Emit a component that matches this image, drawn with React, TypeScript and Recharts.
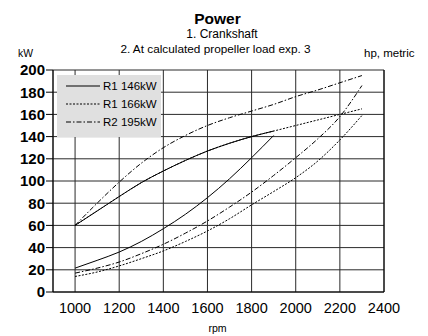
import React from 'react';
import { LineChart, Line, XAxis, YAxis, CartesianGrid, Legend } from 'recharts';

const rpm = [1000, 1100, 1200, 1300, 1400, 1500, 1600, 1700, 1800, 1900, 2000, 2100, 2200, 2300];

// kW values (null = curve not drawn there)
const r1_146_full = [60, 73, 86, 98.5, 109, 118.5, 127, 134, 140, 145, null, null, null, null];
const r1_146_prop = [21.5, 28.5, 36, 45.5, 57, 70, 85, 102, 121, 141, null, null, null, null];
const r1_166_full = [60, 73, 86, 98.5, 109, 118.5, 127, 134, 140, 145, 150, 155, 160, 165];
const r1_166_prop = [14, 18, 23.5, 30, 37, 45.5, 55, 66, 78.5, 90.5, 103, 118, 137, 159];
const r2_195_full = [60, 80, 99, 116, 130, 141, 150, 157, 163, 169, 176, 182, 188.5, 195];
const r2_195_prop = [17, 21.5, 27, 34.5, 43, 53, 64, 76.5, 90, 105, 121, 138, 158, 186];

const xTicks = [1000, 1200, 1400, 1600, 1800, 2000, 2200, 2400];
const kwTicks = [0, 20, 40, 60, 80, 100, 120, 140, 160, 180, 200];
const hpTicks = [0, 30, 60, 90, 120, 150, 180, 210, 240];

const legendItems = [
  { name: 'R1 146kW', dash: undefined as string | undefined },
  { name: 'R1 166kW', dash: '2 1.5' },
  { name: 'R2 195kW', dash: '5 2 1.5 2' },
];

const data = rpm.map((r, i) => ({
  rpm: r,
  a: r1_146_full[i],
  b: r1_146_prop[i],
  c: r1_166_full[i],
  d: r1_166_prop[i],
  e: r2_195_full[i],
  f: r2_195_prop[i],
}));

const FONT = '"Liberation Sans", Arial, sans-serif';

const renderLegend = () => (
  <div style={{ position: 'relative', width: 104, height: 62, background: '#e0e0e0', fontFamily: FONT }}>
    {legendItems.map((it, i) => (
      <div key={it.name} style={{ position: 'absolute', left: 9, top: 4 + i * 18, height: 14, display: 'flex', alignItems: 'center' }}>
        <svg width={34} height={4} style={{ display: 'block' }}>
          <line x1={0} y1={2} x2={34} y2={2} stroke="#000" strokeWidth={1} strokeDasharray={it.dash} />
        </svg>
        <span style={{ marginLeft: 3, fontSize: 11.5, color: '#000', whiteSpace: 'nowrap', lineHeight: '14px' }}>{it.name}</span>
      </div>
    ))}
  </div>
);

export default function App() {
  return (
    <div style={{ position: 'absolute', left: 0, top: 0, width: 428, height: 336, background: '#fff' }}>
      <LineChart width={428} height={336} data={data} margin={{ top: 65, right: 0, bottom: 14, left: 13 }}>
        <CartesianGrid stroke="#2a2a2a" vertical horizontal />
        <XAxis
          dataKey="rpm"
          type="number"
          domain={[900, 2400]}
          ticks={xTicks}
          tickLine={false}
          tickSize={6}
          tickMargin={5}
          height={30}
          axisLine={{ stroke: '#000' }}
          tick={{ fill: '#000', fontSize: 14.5, fontFamily: FONT }}
          interval={0}
        />
        <XAxis
          xAxisId="top"
          orientation="top"
          dataKey="rpm"
          type="number"
          domain={[900, 2400]}
          ticks={xTicks}
          tickSize={5}
          height={5}
          tick={false}
          axisLine={false}
          tickLine={{ stroke: '#000' }}
        />
        <YAxis
          domain={[0, 200]}
          ticks={kwTicks}
          width={40}
          tickSize={7}
          tickMargin={1}
          axisLine={{ stroke: '#000' }}
          tickLine={{ stroke: '#000' }}
          tick={{ fill: '#000', fontSize: 15, fontWeight: 'bold', fontFamily: FONT }}
          interval={0}
        />
        <YAxis
          yAxisId="hp"
          orientation="right"
          domain={[0, 800 / 3]}
          ticks={hpTicks}
          width={44}
          tickSize={4}
          tickMargin={1}
          axisLine={{ stroke: '#000' }}
          tickLine={{ stroke: '#000' }}
          tick={{ fill: '#000', fontSize: 15, fontFamily: FONT }}
          interval={0}
        />
        <Legend
          layout="horizontal"
          verticalAlign="middle"
          align="center"
          wrapperStyle={{ left: 57, top: 75, width: 104, height: 62 }}
          content={renderLegend}
        />
        <Line type="monotone" dataKey="c" stroke="#000" strokeWidth={1} strokeDasharray="2 1.5" dot={false} isAnimationActive={false} />
        <Line type="monotone" dataKey="a" stroke="#000" strokeWidth={1} dot={false} isAnimationActive={false} />
        <Line type="monotone" dataKey="b" stroke="#000" strokeWidth={1} dot={false} isAnimationActive={false} />
        <Line type="monotone" dataKey="d" stroke="#000" strokeWidth={1} strokeDasharray="2 1.5" dot={false} isAnimationActive={false} />
        <Line type="monotone" dataKey="e" stroke="#000" strokeWidth={1} strokeDasharray="5 2 1.5 2" dot={false} isAnimationActive={false} />
        <Line type="monotone" dataKey="f" stroke="#000" strokeWidth={1} strokeDasharray="5 2 1.5 2" dot={false} isAnimationActive={false} />
      </LineChart>
      <svg width={428} height={336} style={{ position: 'absolute', left: 0, top: 0, pointerEvents: 'none' }} fontFamily={FONT}>
        <text x={217.5} y={24} textAnchor="middle" fontSize={15.5} fontWeight="bold" fill="#000">Power</text>
        <text x={222} y={38} textAnchor="middle" fontSize={12} fill="#000">1. Crankshaft</text>
        <text x={215.5} y={53} textAnchor="middle" fontSize={11.8} fill="#000">2. At calculated propeller load exp. 3</text>
        <text x={18} y={57} fontSize={10.4} fill="#000">kW</text>
        <text x={364} y={57} fontSize={11.5} fill="#000">hp, metric</text>
        <text x={217.5} y={332} textAnchor="middle" fontSize={10.6} fill="#000">rpm</text>
      </svg>
    </div>
  );
}
